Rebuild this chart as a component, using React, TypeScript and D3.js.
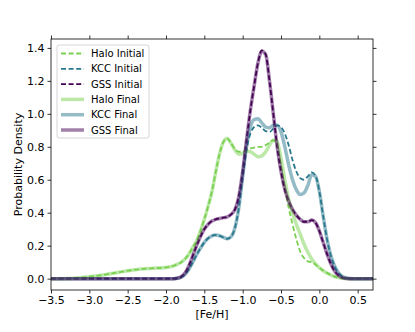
import React, { useEffect, useRef } from 'react';
import * as d3 from 'd3';

// [Fe/H] grid shared by all curves
const feH = [
  -3.5, -3.2, -3.0, -2.8, -2.6, -2.4, -2.2, -2.0,
  -1.9, -1.85, -1.8, -1.75, -1.7, -1.65, -1.6, -1.55,
  -1.5, -1.45, -1.4, -1.35, -1.3, -1.25, -1.2, -1.15,
  -1.1, -1.05, -1.0, -0.95, -0.9, -0.85, -0.8, -0.75,
  -0.7, -0.65, -0.6, -0.55, -0.5, -0.45, -0.4, -0.35,
  -0.3, -0.25, -0.2, -0.15, -0.1, -0.05, 0.0, 0.05,
  0.1, 0.15, 0.2, 0.25, 0.3, 0.35, 0.4, 0.45,
  0.5, 0.6, 0.7,
];

const haloInitial = [
  0, 0.003, 0.012, 0.024, 0.04, 0.054, 0.062, 0.068,
  0.078, 0.088, 0.1, 0.12, 0.15, 0.19, 0.23, 0.29,
  0.36, 0.44, 0.53, 0.65, 0.76, 0.83, 0.85, 0.82,
  0.785, 0.77, 0.77, 0.78, 0.79, 0.795, 0.8, 0.8,
  0.81, 0.825, 0.84, 0.81, 0.69, 0.55, 0.43, 0.33,
  0.24, 0.165, 0.125, 0.105, 0.1, 0.085, 0.067, 0.05,
  0.035, 0.022, 0.012, 0.006, 0.002, 0.0005, 0, 0,
  0, 0, 0,
];

const kccInitial = [
  0, 0, 0, 0, 0, 0, 0, 0,
  0, 0.002, 0.009, 0.026, 0.058, 0.1, 0.145, 0.185,
  0.22, 0.245, 0.26, 0.265, 0.26, 0.25, 0.242, 0.255,
  0.31, 0.43, 0.61, 0.78, 0.88, 0.92, 0.93, 0.915,
  0.895, 0.89, 0.91, 0.93, 0.92, 0.88, 0.81, 0.72,
  0.65, 0.61, 0.6, 0.62, 0.645, 0.625, 0.53, 0.38,
  0.24, 0.14, 0.075, 0.035, 0.013, 0.004, 0.001, 0,
  0, 0, 0,
];

const gssInitial = [
  0, 0, 0, 0, 0, 0, 0, 0,
  0, 0.003, 0.012, 0.035, 0.08, 0.14, 0.2, 0.255,
  0.3, 0.33, 0.35, 0.36, 0.365, 0.37, 0.375, 0.39,
  0.42, 0.5, 0.65, 0.84, 1.02, 1.17, 1.31, 1.385,
  1.36, 1.2, 1.0, 0.8, 0.65, 0.54, 0.47, 0.42,
  0.385, 0.36, 0.345, 0.345, 0.355, 0.34, 0.29, 0.22,
  0.15, 0.09, 0.045, 0.02, 0.006, 0.001, 0, 0,
  0, 0, 0,
];

const haloFinal = [
  0, 0.003, 0.012, 0.024, 0.04, 0.054, 0.062, 0.068,
  0.078, 0.088, 0.1, 0.12, 0.15, 0.19, 0.23, 0.29,
  0.36, 0.44, 0.53, 0.65, 0.76, 0.83, 0.85, 0.82,
  0.78, 0.755, 0.76, 0.775, 0.77, 0.755, 0.74, 0.745,
  0.77, 0.81, 0.84, 0.83, 0.73, 0.6, 0.48, 0.4,
  0.33, 0.27, 0.21, 0.16, 0.12, 0.09, 0.066, 0.048,
  0.034, 0.022, 0.012, 0.006, 0.002, 0.0005, 0, 0,
  0, 0, 0,
];

const kccFinal = [
  0, 0, 0, 0, 0, 0, 0, 0,
  0, 0.002, 0.009, 0.026, 0.058, 0.1, 0.145, 0.185,
  0.22, 0.245, 0.26, 0.265, 0.26, 0.25, 0.242, 0.255,
  0.31, 0.43, 0.62, 0.8, 0.92, 0.965, 0.97, 0.945,
  0.92, 0.915, 0.93, 0.93, 0.89, 0.8, 0.69, 0.6,
  0.54, 0.51, 0.52, 0.565, 0.63, 0.62, 0.53, 0.38,
  0.24, 0.14, 0.075, 0.035, 0.013, 0.004, 0.001, 0,
  0, 0, 0,
];

const gssFinal = [
  0, 0, 0, 0, 0, 0, 0, 0,
  0, 0.003, 0.012, 0.035, 0.08, 0.14, 0.2, 0.255,
  0.3, 0.33, 0.35, 0.36, 0.365, 0.37, 0.375, 0.39,
  0.42, 0.5, 0.65, 0.84, 1.02, 1.17, 1.31, 1.38,
  1.36, 1.2, 1.0, 0.8, 0.65, 0.54, 0.47, 0.42,
  0.385, 0.36, 0.345, 0.345, 0.355, 0.34, 0.29, 0.22,
  0.15, 0.09, 0.045, 0.02, 0.006, 0.001, 0, 0,
  0, 0, 0,
];

const seriesNames = ['Halo Initial', 'KCC Initial', 'GSS Initial', 'Halo Final', 'KCC Final', 'GSS Final'];
const seriesValues = [haloInitial, kccInitial, gssInitial, haloFinal, kccFinal, gssFinal];
const seriesColors = ['#7ad151', '#2a788e', '#440154', '#7ad151', '#2a788e', '#440154'];

const xTicks = [-3.5, -3.0, -2.5, -2.0, -1.5, -1.0, -0.5, 0.0, 0.5];
const yTicks = [0.0, 0.2, 0.4, 0.6, 0.8, 1.0, 1.2, 1.4];

const FONT = 'DejaVu Sans, sans-serif';

export default function App() {
  const ref = useRef<SVGSVGElement>(null);

  useEffect(() => {
    document.body.style.margin = '0';
    const margin = { top: 39, right: 42, bottom: 42, left: 51 };
    const W = 415, H = 332;
    const width = W - margin.left - margin.right;
    const height = H - margin.top - margin.bottom;

    const svg = d3.select(ref.current);
    svg.selectAll('*').remove();
    svg.append('rect').attr('width', W).attr('height', H).attr('fill', '#fff');

    const g = svg.append('g').attr('transform', 'translate(' + margin.left + ',' + margin.top + ')');

    const x = d3.scaleLinear().domain([-3.5, 0.7]).range([0, width]);
    const y = d3.scaleLinear().domain([-0.069, 1.454]).range([height, 0]);

    const fmt = (d: number) => d3.format('.1f')(d).replace('-', '\u2212');

    const defs = svg.append('defs');
    defs.append('clipPath').attr('id', 'plot-clip')
      .append('rect').attr('width', width).attr('height', height);

    // curves
    const line = d3.line<number>()
      .x((d, i) => x(feH[i]))
      .y((d) => y(d))
      .curve(d3.curveMonotoneX);

    const plot = g.append('g').attr('clip-path', 'url(#plot-clip)');
    seriesValues.forEach((vals, i) => {
      const isFinal = i >= 3;
      plot.append('path')
        .attr('d', line(vals))
        .attr('fill', 'none')
        .attr('stroke', seriesColors[i])
        .attr('stroke-width', isFinal ? 3.5 : 1.8)
        .attr('stroke-opacity', isFinal ? 0.5 : 1)
        .attr('stroke-dasharray', isFinal ? null : '5,2.6')
        .attr('stroke-linecap', isFinal ? 'square' : 'butt');
    });

    // axes
    const styleAxis = (sel: any, labels: boolean) => {
      sel.select('.domain').remove();
      sel.selectAll('.tick line').attr('stroke', '#000').attr('stroke-width', 0.8);
      sel.selectAll('.tick text')
        .attr('font-family', FONT)
        .attr('font-size', 11)
        .attr('fill', '#000');
      if (!labels) sel.selectAll('.tick text').remove();
    };

    g.append('g')
      .attr('transform', 'translate(0,' + height + ')')
      .call(d3.axisBottom(x).tickValues(xTicks).tickSize(3.5).tickPadding(3).tickFormat(fmt as any))
      .call((s: any) => styleAxis(s, true));
    g.append('g')
      .call(d3.axisTop(x).tickValues(xTicks).tickSize(3.5))
      .call((s: any) => styleAxis(s, false));
    g.append('g')
      .call(d3.axisLeft(y).tickValues(yTicks).tickSize(3.5).tickPadding(3).tickFormat(fmt as any))
      .call((s: any) => styleAxis(s, true));
    g.append('g')
      .attr('transform', 'translate(' + width + ',0)')
      .call(d3.axisRight(y).tickValues(yTicks).tickSize(3.5))
      .call((s: any) => styleAxis(s, false));

    g.append('rect')
      .attr('width', width)
      .attr('height', height)
      .attr('fill', 'none')
      .attr('stroke', '#000')
      .attr('stroke-width', 0.8);

    // axis labels
    g.append('text')
      .attr('x', width / 2)
      .attr('y', height + 28)
      .attr('text-anchor', 'middle')
      .attr('font-family', FONT)
      .attr('font-size', 11)
      .text('[Fe/H]');

    g.append('text')
      .attr('transform', 'translate(' + (-29) + ',' + height / 2 + ') rotate(-90)')
      .attr('text-anchor', 'middle')
      .attr('font-family', FONT)
      .attr('font-size', 11)
      .text('Probability Density');

    // legend
    const legend = g.append('g').attr('transform', 'translate(6,6)');
    legend.append('rect')
      .attr('width', 92)
      .attr('height', 93)
      .attr('rx', 2)
      .attr('fill', '#fff')
      .attr('fill-opacity', 0.8)
      .attr('stroke', '#ccc')
      .attr('stroke-width', 0.8);

    seriesNames.forEach((name, i) => {
      const isFinal = i >= 3;
      const row = legend.append('g').attr('transform', 'translate(0,' + (8.5 + i * 15.3) + ')');
      row.append('line')
        .attr('x1', 4).attr('x2', 27)
        .attr('y1', 0).attr('y2', 0)
        .attr('stroke', seriesColors[i])
        .attr('stroke-width', isFinal ? 3.5 : 1.8)
        .attr('stroke-opacity', isFinal ? 0.5 : 1)
        .attr('stroke-dasharray', isFinal ? null : '5,2.6');
      row.append('text')
        .attr('x', 34)
        .attr('y', 0)
        .attr('dy', '0.35em')
        .attr('font-family', FONT)
        .attr('font-size', 10)
        .text(name);
    });
  }, []);

  return (
    <div>
      <svg ref={ref} width={415} height={332} style={{ display: 'block' }} />
    </div>
  );
}
